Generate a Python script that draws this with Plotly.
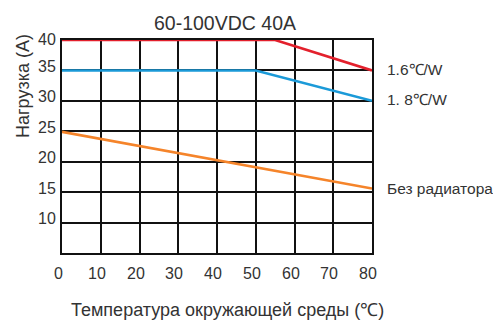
import plotly.graph_objects as go

# Data
title_text = "60-100VDC 40A"
x_title = "Температура окружающей среды (℃)"
y_title = "Нагрузка (А)"

red_x = [0, 55, 80]
red_y = [40, 40, 35]
red_label = "1.6℃/W"

blue_x = [0, 50, 80]
blue_y = [35, 35, 30]
blue_label = "1. 8℃/W"

orange_x = [0, 80]
orange_y = [24.9, 15.6]
orange_label = "Без радиатора"

x_ticks = [0, 10, 20, 30, 40, 50, 60, 70, 80]
y_ticks = [10, 15, 20, 25, 30, 35, 40]

FONT = "Liberation Sans, Arial, sans-serif"
TXT = "#333333"

# plot area in pixels (for placing titles in paper coords)
L, R, T, B = 62, 372, 40, 253
W, H = R - L, B - T

fig = go.Figure()
series = [
    (orange_x, orange_y, "#f5842a", orange_label),
    (blue_x, blue_y, "#1b9ad8", blue_label),
    (red_x, red_y, "#e3202c", red_label),
]
for xs, ys, col, lab in series:
    fig.add_trace(go.Scatter(x=xs, y=ys, mode="lines",
                             line=dict(color=col, width=2.6),
                             showlegend=False, hoverinfo="skip", cliponaxis=False))

ann = []
for xs, ys, col, lab in series:
    ann.append(dict(x=xs[-1], y=ys[-1], xref="x", yref="y", text=lab,
                    showarrow=False, xanchor="left", yanchor="middle",
                    xshift=13, yshift=1 if lab != orange_label else 0,
                    font=dict(family=FONT, size=15.5, color=TXT)))
for v in y_ticks:
    ann.append(dict(x=0, y=v, xref="paper", yref="y", text=str(v),
                    showarrow=False, xanchor="right", yanchor="middle",
                    xshift=-4, yshift=4 if v != 40 else 1,
                    font=dict(family=FONT, size=16, color=TXT)))
for v in x_ticks:
    ann.append(dict(x=v, y=0, xref="x", yref="paper", text=str(v),
                    showarrow=False, xanchor="center", yanchor="middle",
                    xshift=-4, yshift=-20,
                    font=dict(family=FONT, size=16, color=TXT)))
# axis titles
ann.append(dict(x=(227 - L) / W, y=(B - 310) / H, xref="paper", yref="paper", text=x_title,
                showarrow=False, xanchor="center", yanchor="middle",
                font=dict(family=FONT, size=18, color=TXT)))
ann.append(dict(x=(23 - L) / W, y=(B - 86) / H, xref="paper", yref="paper", text=y_title,
                showarrow=False, xanchor="center", yanchor="middle", textangle=-90,
                font=dict(family=FONT, size=18, color=TXT)))

fig.update_layout(
    width=493, height=321,
    margin=dict(l=L, r=493 - R, t=T, b=321 - B),
    paper_bgcolor="white", plot_bgcolor="white",
    title=dict(text=title_text, x=225/493, xanchor="center",
               y=1 - 23/321, yanchor="middle",
               font=dict(family=FONT, size=19.5, color=TXT)),
    annotations=ann,
    xaxis=dict(range=[0, 80], tickvals=x_ticks, showticklabels=False,
               showgrid=True, gridcolor="#111111", gridwidth=1.5,
               showline=True, linecolor="#111111", linewidth=1.5, mirror=True,
               zeroline=False, ticks="", automargin=False),
    yaxis=dict(range=[5, 40], tickvals=y_ticks, showticklabels=False,
               showgrid=True, gridcolor="#111111", gridwidth=1.5,
               showline=True, linecolor="#111111", linewidth=1.5, mirror=True,
               zeroline=False, ticks="", automargin=False),
)
fig.write_html("out.html", config={"displayModeBar": False},
               post_script="document.body.style.margin='0';")
